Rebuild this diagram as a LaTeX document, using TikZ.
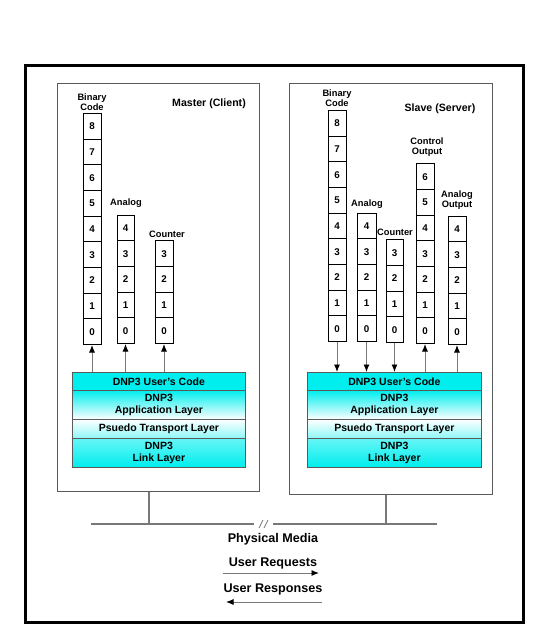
\documentclass[tikz,border=0pt]{standalone}
\usepackage{fontspec}
\setmainfont{Liberation Sans}
\usetikzlibrary{arrows.meta}
\definecolor{cy}{RGB}{0,238,238}
\definecolor{frame}{RGB}{90,90,90}
\definecolor{wire}{RGB}{120,120,120}
\tikzset{
  cell/.style={draw=black, line width=1pt, minimum width=18pt, minimum height=25.65pt, inner sep=0pt, font=\bfseries\fontsize{9.8}{10}\selectfont},
  lbl/.style={font=\bfseries\fontsize{9.3}{10.5}\selectfont, align=center, inner sep=0pt},
  title/.style={font=\bfseries\fontsize{10.6}{12}\selectfont, inner sep=0pt},
  big/.style={font=\bfseries\fontsize{12.6}{14}\selectfont, inner sep=0pt},
  layer/.style={draw=frame, line width=0.8pt, inner sep=0pt, align=center, font=\bfseries\fontsize{10.5}{11.5}\selectfont},
  sysbox/.style={draw=frame, line width=1pt},
  conn/.style={draw=wire, line width=0.9pt, -{Latex[length=7.5pt,width=6pt,color=black]}},
  bus/.style={draw=wire, line width=1.2pt},
}
\newcommand{\mkcol}[5]{% name, center x, bottom y(img), ncells-1, width
  \foreach \k in {0,...,#4} {
    \node[cell, minimum width=#5pt, anchor=south] (#1\k) at (#2, {#3 - \k*25.65}) {\k};
  }
}
\begin{document}
\begin{tikzpicture}[x=1pt,y=-1pt]
\useasboundingbox (0,0) rectangle (541,640);
\fill[white] (0,0) rectangle (541,640);
% outer frame
\node[draw=black, line width=3pt, minimum width=498pt, minimum height=557pt, inner sep=0pt, anchor=north west] (outer) at (24,64) {};
% system boxes
\node[sysbox, minimum width=202pt, minimum height=408pt, inner sep=0pt, anchor=north west] (master) at (57,83) {};
\node[sysbox, minimum width=203pt, minimum height=411pt, inner sep=0pt, anchor=north west] (slave) at (289,83) {};
\node[title] (mtitle) at (209,104) {Master (Client)};
\node[title] (stitle) at (440,109) {Slave (Server)};
% master columns
\mkcol{mb}{92}{345}{8}{18}
\mkcol{ma}{125.5}{344}{4}{17}
\mkcol{mc}{164}{344}{3}{18}
\node[lbl] (lmb) at (92,102) {Binary\\Code};
\node[lbl] (lma) at (126,203) {Analog};
\node[lbl] (lmc) at (167,234) {Counter};
% slave columns
\mkcol{sb}{337}{342}{8}{18}
\mkcol{sa}{366.5}{342}{4}{19}
\mkcol{sc}{394.5}{343}{3}{17}
\mkcol{so}{425}{344}{6}{18}
\mkcol{sao}{457}{345}{4}{18}
\node[lbl] (lsb) at (337,98) {Binary\\Code};
\node[lbl] (lsa) at (367,204) {Analog};
\node[lbl] (lsc) at (395,232) {Counter};
\node[lbl] (lso) at (427,147) {Control\\Output};
\node[lbl] (lsao) at (457,200) {Analog\\Output};
% master stack
\node[layer, fill=cy, minimum width=173pt, minimum height=18pt, anchor=north west] (muc) at (72,372) {DNP3 User's Code};
\node[layer, top color=cy, bottom color=white, minimum width=173pt, minimum height=29pt, anchor=north west] (mal) at (72,390) {DNP3\\Application Layer};
\node[layer, top color=white, bottom color=cy!45, minimum width=173pt, minimum height=19pt, anchor=north west] (mpt) at (72,419) {Psuedo Transport Layer};
\node[layer, top color=cy!60, bottom color=cy, minimum width=173pt, minimum height=29pt, anchor=north west] (mll) at (72,438) {DNP3\\Link Layer};
% slave stack
\node[layer, fill=cy, minimum width=174pt, minimum height=18pt, anchor=north west] (suc) at (307,372) {DNP3 User's Code};
\node[layer, top color=cy, bottom color=white, minimum width=174pt, minimum height=29pt, anchor=north west] (sal) at (307,390) {DNP3\\Application Layer};
\node[layer, top color=white, bottom color=cy!45, minimum width=174pt, minimum height=19pt, anchor=north west] (spt) at (307,419) {Psuedo Transport Layer};
\node[layer, top color=cy!60, bottom color=cy, minimum width=174pt, minimum height=29pt, anchor=north west] (sll) at (307,438) {DNP3\\Link Layer};
% master arrows (up)
\foreach \c in {mb0,ma0,mc0} \draw[conn] (\c.south |- muc.north) -- (\c.south);
% slave arrows
\foreach \c in {sb0,sa0,sc0} \draw[conn] (\c.south) -- (\c.south |- suc.north);
\foreach \c in {so0,sao0} \draw[conn] (\c.south |- suc.north) -- (\c.south);
% bus
\coordinate (busL) at (91,524);
\coordinate (gapL) at (254,524);
\coordinate (gapR) at (273,524);
\coordinate (busR) at (437,524);
\draw[bus] (busL) -- (gapL);
\draw[bus] (gapR) -- (busR);
\draw[wire, line width=0.7pt] (259,528) -- (263,520) (264,528) -- (268,520);
\draw[bus] (master.south -| 149,0) -- (149,524);
\draw[bus] (slave.south -| 386,0) -- (386,524);
\node[big] (phys) at (273,539) {Physical Media};
\node[big] (ureq) at (273,563) {User Requests};
\node[big] (uresp) at (273,589) {User Responses};
\coordinate (r1) at (223,573);
\coordinate (r2) at (319,573);
\coordinate (s1) at (322,602);
\coordinate (s2) at (226,602);
\draw[conn] (r1) -- (r2);
\draw[conn] (s1) -- (s2);
\end{tikzpicture}
\end{document}
